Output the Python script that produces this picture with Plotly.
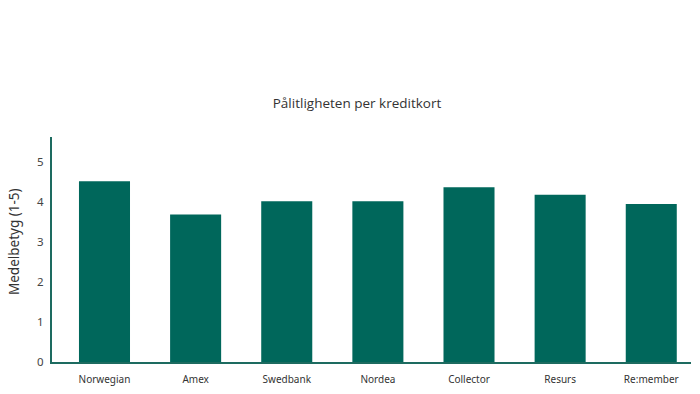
import plotly.graph_objects as go

categories = ["Norwegian", "Amex", "Swedbank", "Nordea", "Collector", "Resurs", "Re:member"]
ratings = [4.52, 3.69, 4.02, 4.02, 4.37, 4.18, 3.95]
y_ticks = [0, 1, 2, 3, 4, 5]

fig = go.Figure(go.Bar(x=categories, y=ratings, marker=dict(color="#00675b", line=dict(width=0))))

fig.update_layout(
    width=700, height=394,
    margin=dict(l=52, r=9, t=137, b=32),
    paper_bgcolor="white", plot_bgcolor="white",
    bargap=0.44,
    showlegend=False,
    title=dict(text="Pålitligheten per kreditkort", x=0.51, xanchor="center", y=1 - 103/394, yanchor="middle",
               font=dict(family="Open Sans", size=13.5, color="#333333")),
    font=dict(family="Noto Sans", color="#333333"),
    annotations=[dict(text="Medelbetyg (1-5)", textangle=-90, xref="paper", yref="paper",
                      x=(14 - 52) / 639, y=(362 - 242) / 225, xanchor="center", yanchor="middle",
                      showarrow=False, font=dict(family="Noto Sans", size=13.5, color="#333333"))],
)
fig.update_xaxes(
    type="category", range=[-0.576, 6.436],
    showline=True, linecolor="#1d6b60", linewidth=2,
    ticks="outside", ticklen=7, tickcolor="rgba(0,0,0,0)",
    tickfont=dict(size=10, color="#333333"), showgrid=False,
)
fig.update_yaxes(
    range=[0, 5.625], tickvals=y_ticks,
    showline=True, linecolor="#1d6b60", linewidth=2,
    ticks="outside", ticklen=4, tickcolor="rgba(0,0,0,0)",
    tickfont=dict(size=11.5, color="#444444"), showgrid=False, zeroline=False,
)

fig.write_html("out.html")
